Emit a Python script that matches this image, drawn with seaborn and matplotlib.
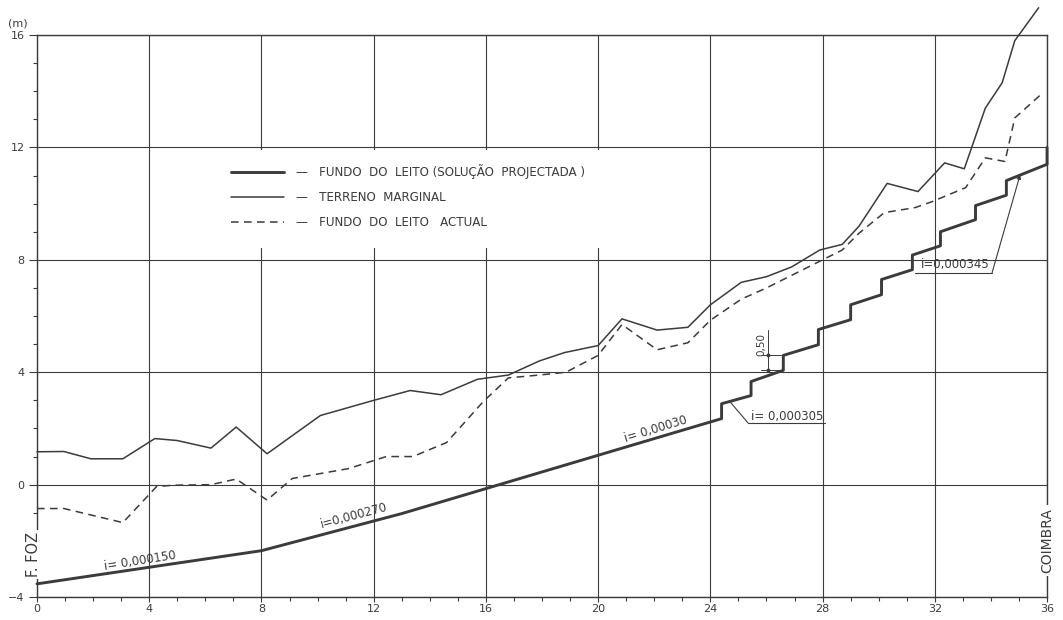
import matplotlib
matplotlib.use("Agg")
from matplotlib import pyplot as plt
from matplotlib.patches import Rectangle
from matplotlib.ticker import MultipleLocator
import seaborn as sns

# longitudinal profile, km from the mouth (F. Foz) up to Coimbra, heights in m
terreno_km = [0, 0.96, 1.92, 3.06, 4.2, 5.0, 6.2, 7.1, 8.2, 10.1, 12.0, 13.3, 14.4, 15.7,
              16.8, 17.9, 18.8, 20.0, 20.85, 22.1, 23.2, 24.0, 25.1, 26.0, 26.9, 27.9,
              28.7, 29.3, 30.3, 31.4, 32.35, 33.05, 33.8, 34.4, 34.85, 35.7]
terreno_m = [1.17, 1.18, 0.92, 0.92, 1.64, 1.57, 1.3, 2.05, 1.1, 2.46, 3.0, 3.35, 3.2, 3.75,
             3.9, 4.4, 4.7, 4.95, 5.9, 5.5, 5.6, 6.4, 7.2, 7.4, 7.75, 8.35,
             8.55, 9.2, 10.72, 10.43, 11.45, 11.24, 13.4, 14.3, 15.8, 16.97]

actual_km = [0, 0.96, 3.06, 4.26, 4.85, 6.2, 7.1, 8.2, 9.1, 11.1, 12.45, 13.4, 14.6, 15.9,
             16.8, 17.9, 18.85, 20.0, 20.85, 22.1, 23.2, 24.0, 25.1, 26.0, 26.9, 27.9,
             28.7, 29.3, 30.2, 31.3, 31.9, 33.1, 33.8, 34.5, 34.85, 35.8]
actual_m = [-0.85, -0.85, -1.35, -0.07, -0.02, 0.0, 0.2, -0.55, 0.22, 0.57, 1.0, 1.0, 1.5, 2.95,
            3.8, 3.9, 4.0, 4.6, 5.7, 4.8, 5.05, 5.85, 6.6, 7.0, 7.45, 7.95,
            8.35, 8.95, 9.68, 9.86, 10.07, 10.57, 11.63, 11.5, 13.05, 13.9]

# projected bed with 0.50 m drops
proj_km = [0, 8, 13.0, 24.4, 24.4, 25.45, 25.45, 26.6, 26.6, 27.85, 27.85, 29.0, 29.0,
           30.1, 30.1, 31.2, 31.2, 32.2, 32.2, 33.45, 33.45, 34.55, 34.55, 36, 36]
proj_m = [-3.53, -2.35, -1.03, 2.35, 2.88, 3.17, 3.67, 4.07, 4.6, 4.98, 5.52, 5.87, 6.4,
          6.76, 7.3, 7.65, 8.17, 8.5, 9.0, 9.43, 9.93, 10.3, 10.82, 11.4, 12.0]

x_ticks = [0, 4, 8, 12, 16, 20, 24, 28, 32, 36]
y_ticks = [-4, 0, 4, 8, 12, 16]

legend_labels = ["—   FUNDO  DO  LEITO (SOLUÇÃO  PROJECTADA )",
                 "—   TERRENO  MARGINAL",
                 "—   FUNDO  DO  LEITO   ACTUAL"]

ink = "#3b3b3b"

sns.set_style("ticks")
plt.rcParams["font.family"] = ["DejaVu Sans"]

f, ax = plt.subplots(figsize=(10.63, 6.2), dpi=100)
f.subplots_adjust(left=0.0348, right=0.985, bottom=0.037, top=0.9435)

sns.lineplot(x=terreno_km, y=terreno_m, ax=ax, color=ink, lw=1.1,
             estimator=None, sort=False, clip_on=False)
sns.lineplot(x=actual_km, y=actual_m, ax=ax, color=ink, lw=1.1,
             linestyle=(0, (5, 3.5)), estimator=None, sort=False)
sns.lineplot(x=proj_km, y=proj_m, ax=ax, color=ink, lw=2.1,
             estimator=None, sort=False, clip_on=False)

ax.set_xlim(0, 36)
ax.set_ylim(-4, 16)
ax.set_xticks(x_ticks)
ax.set_yticks(y_ticks)
ax.xaxis.set_minor_locator(MultipleLocator(1))
ax.yaxis.set_minor_locator(MultipleLocator(1))
ax.set_axisbelow(True)
ax.grid(True, which="major", color=ink, lw=0.8)
ax.tick_params(which="major", direction="out", length=6, width=0.8, colors=ink,
               labelsize=8, pad=3)
ax.tick_params(which="minor", direction="out", length=3, width=0.8, colors=ink)
ax.tick_params(axis="x", which="major", length=3.5, pad=1.5)
for s in ax.spines.values():
    s.set_color(ink)
    s.set_linewidth(1.0)
ax.set_xlabel("")
ax.set_ylabel("")

# white panel behind the legend hides the grid
ax.add_patch(Rectangle((6.6, 8.42), 14.4, 3.5, facecolor="white", edgecolor="none", zorder=1))
handles = [ax.lines[2], ax.lines[0], ax.lines[1]]
ax.legend(handles, legend_labels, loc="center left", bbox_to_anchor=(6.93, 10.25),
          bbox_transform=ax.transData, frameon=False, fontsize=8.6, labelcolor=ink,
          handlelength=4.4, handletextpad=1.0, labelspacing=1.0, borderpad=0,
          borderaxespad=0)

# slope labels along the projected bed
tk = dict(color=ink, fontsize=8.5, rotation_mode="anchor", ha="left", va="baseline")
ax.text(2.42, -3.02, "i= 0,000150", rotation=9, **tk)
ax.text(10.13, -1.53, "i=0,000270", rotation=15, **tk)
ax.text(21.0, 1.53, "i= 0,00030", rotation=17, **tk)

ax.text(25.45, 2.3, "i= 0,000305", **tk)
ax.plot([25.34, 28.07], [2.2, 2.2], color=ink, lw=0.8)
ax.plot([25.34, 24.7], [2.2, 2.95], color=ink, lw=0.8)

ax.text(31.5, 7.7, "i=0,000345", **tk)
ax.plot([31.3, 34.04], [7.54, 7.54], color=ink, lw=0.8)
ax.annotate("", xy=(35.04, 11.03), xytext=(34.04, 7.54),
            arrowprops=dict(arrowstyle="-|>", color=ink, lw=0.8, mutation_scale=6,
                            shrinkA=0, shrinkB=0))

# 0,50 drop dimension on the step at km 26.6
sx = proj_km[7] - 0.55
ax.plot([sx, sx], [proj_m[7], proj_m[8] + 0.9], color=ink, lw=0.7)
ax.plot([sx - 0.2, proj_km[7] - 0.1], [proj_m[8], proj_m[8]], color=ink, lw=0.7)
ax.plot([sx - 0.25, proj_km[7] - 0.1], [proj_m[7], proj_m[7]], color=ink, lw=0.7)
ax.plot([sx, sx], [proj_m[7], proj_m[8]], "o", color=ink, ms=1.8)
ax.text(sx - 0.22, proj_m[8] + 0.4, "0,50", rotation=90, ha="center", va="center",
        fontsize=7.5, color=ink)

# place names over the end axes
ax.text(-0.14, -2.49, "F. FOZ", rotation=90, ha="center", va="center", fontsize=10.5,
        color=ink, clip_on=False, zorder=5,
        bbox=dict(facecolor="white", edgecolor="none", pad=1.5))
ax.text(36.0, -1.99, "COIMBRA", rotation=90, ha="center", va="center", fontsize=10,
        color=ink, clip_on=False, zorder=5,
        bbox=dict(facecolor="white", edgecolor="none", pad=2.5))
ax.text(-0.019, 1.021, "(m)", transform=ax.transAxes, ha="center", va="center",
        fontsize=8, color=ink)

plt.savefig("out.png", dpi=100, facecolor="white")
